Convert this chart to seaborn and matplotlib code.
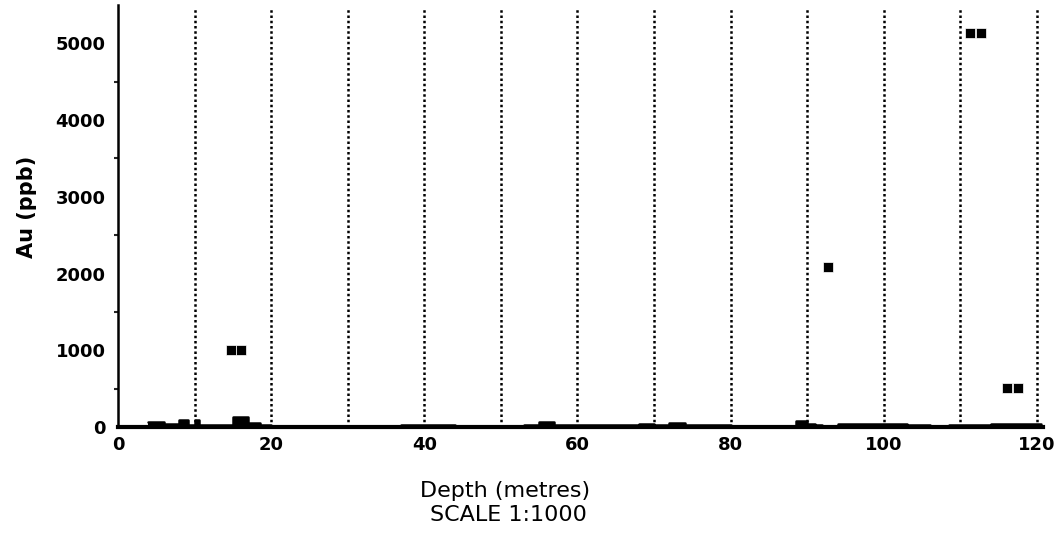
import numpy as np
import pandas as pd
import matplotlib
matplotlib.use("Agg")
import matplotlib.pyplot as plt
import seaborn as sns

# ---- data ----
# low-level Au profile (step segments: start depth, value)
prof_depth = [3.9, 6.0, 8.0, 9.2, 10.0, 10.6, 15.0, 17.0, 18.5, 20.0, 22.0, 25.0, 28.0,
              31.0, 34.0, 37.0, 44.0, 53.0, 55.0, 57.0, 60.0, 68.0, 70.0, 72.0, 74.0,
              80.0, 88.5, 90.0, 91.0, 92.0, 94.0, 99.0, 103.0, 106.0, 108.5, 114.0,
              118.0, 120.5]
prof_au = [60, 40, 90, 25, 85, 30, 130, 55, 30, 15, 8, 12, 5, 10, 6, 25, 12, 30, 60, 22,
           20, 45, 22, 50, 28, 18, 75, 45, 22, 12, 45, 45, 25, 18, 22, 45, 35, 35]

# high-value samples (square markers)
peak_depth = [14.7, 16.1, 92.7, 111.3, 112.7, 116.1, 117.6]
peak_au = [1000, 1000, 2090, 5140, 5140, 510, 510]

x_ticks = [0, 10, 20, 30, 40, 50, 60, 70, 80, 90, 100, 110, 120]
x_labels = ["0", "", "20", "", "40", "", "60", "", "80", "", "100", "", "120"]
y_ticks = [0, 1000, 2000, 3000, 4000, 5000]
grid_depths = [10, 20, 30, 40, 50, 60, 70, 80, 90, 100, 110, 120]

sns.set_style("white")
plt.rcParams["font.family"] = ["DejaVu Sans"]

fig = plt.figure(figsize=(10.57, 5.40), dpi=100)
ax = fig.add_axes([118 / 1057, 1 - 427 / 540, (1043 - 118) / 1057, (427 - 5) / 540])

# vertical dotted lines
for d in grid_depths:
    ax.axvline(d, ymin=0, ymax=0.995, color="black", lw=1.8,
               linestyle=(0, (1, 1.1)), zorder=1)

prof_df = pd.DataFrame({"depth": prof_depth, "au": prof_au})
ax.fill_between(prof_df["depth"], 0, prof_df["au"], step="post",
                color="black", lw=0, zorder=2)
sns.lineplot(data=prof_df, x="depth", y="au", drawstyle="steps-post",
             color="black", lw=1.8, estimator=None, sort=False, ax=ax,
             clip_on=False, zorder=3)

peak_df = pd.DataFrame({"depth": peak_depth, "au": peak_au})
sns.scatterplot(data=peak_df, x="depth", y="au", marker="s", s=46,
                color="black", edgecolor="white", linewidth=0.5, ax=ax,
                zorder=4, clip_on=False)

ax.set_xlim(0, 120.8)
ax.set_ylim(0, 5500)

for side in ["top", "right"]:
    ax.spines[side].set_visible(False)
ax.spines["left"].set_linewidth(1.8)
ax.spines["bottom"].set_linewidth(3.0)
ax.spines["left"].set_color("black")
ax.spines["bottom"].set_color("black")

ax.set_xticks(x_ticks)
ax.set_xticklabels(x_labels)
ax.set_yticks(y_ticks)
ax.set_yticklabels([str(v) for v in y_ticks])
ax.set_yticks(np.arange(500, 5500, 1000), minor=True)

ax.tick_params(axis="x", which="major", direction="inout", length=9, width=2,
               pad=2, labelsize=13, colors="black")
ax.tick_params(axis="y", which="major", direction="out", length=6, width=2,
               pad=3, labelsize=13, colors="black")
ax.tick_params(axis="y", which="minor", direction="out", length=3, width=1.5,
               left=True)
for lab in ax.get_xticklabels() + ax.get_yticklabels():
    lab.set_fontweight("bold")

ax.set_xlabel("Depth (metres)", fontsize=16, color="black")
ax.xaxis.set_label_coords((505 - 118) / (1043 - 118), -(491 - 427) / 422)
ax.xaxis.label.set_va("center")
ax.set_ylabel("Au (ppb)", fontsize=15, fontweight="bold", color="black")
ax.yaxis.set_label_coords(-(118 - 27) / 925, (427 - 207) / 422)
ax.yaxis.label.set_va("center")

fig.text(508 / 1057, 1 - 515 / 540, "SCALE 1:1000", fontsize=16,
         ha="center", va="center", color="black")

ax.grid(False)
fig.savefig("out.png", dpi=100, facecolor="white")
